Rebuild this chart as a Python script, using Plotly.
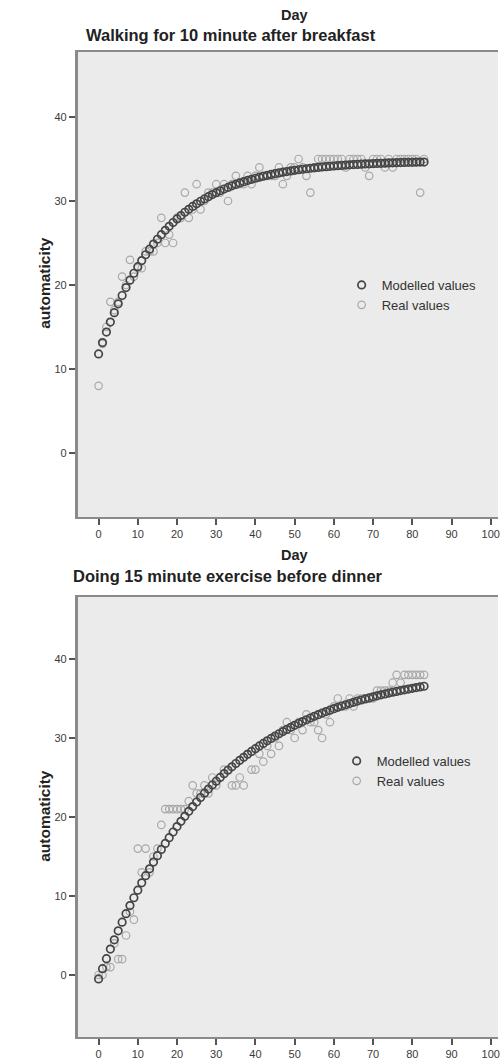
import plotly.graph_objects as go

days = list(range(0, 84))

walk_modelled = [11.80, 13.14, 14.40, 15.59, 16.71, 17.76, 18.75, 19.69, 20.57, 21.40,
                 22.18, 22.91, 23.60, 24.26, 24.87, 25.45, 25.99, 26.51, 26.99, 27.44,
                 27.87, 28.27, 28.66, 29.01, 29.35, 29.67, 29.97, 30.25, 30.51, 30.76,
                 30.99, 31.22, 31.43, 31.62, 31.81, 31.98, 32.15, 32.30, 32.45, 32.58,
                 32.71, 32.84, 32.95, 33.06, 33.16, 33.25, 33.34, 33.43, 33.51, 33.58,
                 33.65, 33.72, 33.78, 33.84, 33.90, 33.95, 34.00, 34.05, 34.09, 34.13,
                 34.17, 34.21, 34.24, 34.28, 34.31, 34.34, 34.36, 34.39, 34.41, 34.43,
                 34.46, 34.48, 34.49, 34.51, 34.53, 34.54, 34.56, 34.57, 34.59, 34.60,
                 34.61, 34.62, 34.63, 34.64]

walk_real = [8, 13, 15, 18, 17, 18, 21, 20, 23, 21,
             22, 22, 24, 24, 24, 25, 28, 25, 26, 25,
             28, 28, 31, 28, 29, 32, 29, 30, 31, 31,
             32, 31, 32, 30, 32, 33, 32, 32, 33, 32,
             33, 34, 33, 33, 33, 33, 34, 32, 33, 34,
             34, 35, 34, 33, 31, 34, 35, 35, 35, 35,
             35, 35, 35, 34, 35, 35, 35, 35, 34, 33,
             35, 35, 35, 34, 35, 34, 35, 35, 35, 35,
             35, 35, 31, 35]

exer_modelled = [-0.50, 0.80, 2.06, 3.28, 4.45, 5.59, 6.69, 7.76, 8.79, 9.78,
                 10.74, 11.67, 12.57, 13.44, 14.29, 15.10, 15.89, 16.65, 17.38, 18.10,
                 18.79, 19.45, 20.09, 20.72, 21.32, 21.90, 22.47, 23.01, 23.54, 24.05,
                 24.54, 25.01, 25.48, 25.92, 26.35, 26.77, 27.17, 27.56, 27.94, 28.30,
                 28.65, 29.00, 29.32, 29.64, 29.95, 30.25, 30.54, 30.82, 31.09, 31.35,
                 31.60, 31.84, 32.08, 32.31, 32.53, 32.74, 32.95, 33.15, 33.34, 33.52,
                 33.71, 33.88, 34.05, 34.21, 34.37, 34.52, 34.67, 34.81, 34.95, 35.08,
                 35.21, 35.34, 35.46, 35.57, 35.69, 35.80, 35.90, 36.00, 36.10, 36.20,
                 36.29, 36.38, 36.47, 36.55]

exer_real = [0, 0, 1, 1, 4, 2, 2, 5, 8, 7,
             16, 13, 16, 13, 15, 16, 19, 21, 21, 21,
             21, 21, 21, 22, 24, 23, 23, 24, 23, 25,
             24, 25, 26, 26, 24, 24, 25, 24, 28, 26,
             26, 28, 27, 29, 28, 30, 29, 31, 32, 31,
             30, 32, 31, 33, 32, 32, 31, 30, 33, 32,
             34, 35, 34, 34, 35, 34, 35, 35, 35, 35,
             35, 36, 36, 36, 36, 37, 38, 37, 38, 38,
             38, 38, 38, 38]

x_ticks = [0, 10, 20, 30, 40, 50, 60, 70, 80, 90, 100]
y_ticks = [0, 10, 20, 30, 40]

W, H = 500, 1064
FONT = "Liberation Sans, Arial, sans-serif"
MOD_COL = "#454545"
REAL_COL = "#a8a8a8"

fig = go.Figure()

panels = [
    ("x", "y", walk_modelled, walk_real, "legend"),
    ("x2", "y2", exer_modelled, exer_real, "legend2"),
]
for xa, ya, mod, real, lg in panels:
    fig.add_trace(go.Scatter(
        x=days, y=real, mode="markers", name="Real values",
        xaxis=xa, yaxis=ya, legend=lg, legendrank=2,
        marker=dict(symbol="circle-open", size=7.5, color=REAL_COL,
                    line=dict(width=1.2, color=REAL_COL)),
    ))
    fig.add_trace(go.Scatter(
        x=days, y=mod, mode="markers", name="Modelled values",
        xaxis=xa, yaxis=ya, legend=lg, legendrank=1,
        marker=dict(symbol="circle-open", size=7.5, color=MOD_COL,
                    line=dict(width=1.7, color=MOD_COL)),
    ))

def px_y(p):
    return 1 - p / H

def xaxis_cfg():
    return dict(
        domain=[78 / W, 1.0], range=[-5.33, 101.85],
        tickvals=x_ticks, ticks="outside", ticklen=6, tickwidth=1.5, tickcolor="#555",
        showline=True, linecolor="#8a8a8a", linewidth=2, mirror=True,
        showgrid=False, zeroline=False, ticklabeloverflow="allow",
        tickfont=dict(family=FONT, size=11, color="#3a3a3a"),
    )

def yaxis_cfg(dom, rng):
    return dict(
        domain=dom, range=rng,
        tickvals=y_ticks, ticks="outside", ticklen=6, tickwidth=1.5, tickcolor="#555",
        showline=True, linecolor="#8a8a8a", linewidth=2.5, mirror=False,
        showgrid=False, zeroline=False,
        tickfont=dict(family=FONT, size=11, color="#3a3a3a"),
    )

leg_font = dict(family=FONT, size=13, color="#333")
fig.update_layout(
    width=W, height=H,
    margin=dict(l=0, r=0, t=0, b=0),
    paper_bgcolor="white",
    plot_bgcolor="#ebebeb",
    font=dict(family=FONT, color="#222"),
    xaxis=dict(**xaxis_cfg(), anchor="y"),
    yaxis=dict(**yaxis_cfg([px_y(517), px_y(52)], [-7.62, 47.74]), anchor="x"),
    xaxis2=dict(**xaxis_cfg(), anchor="y2"),
    yaxis2=dict(**yaxis_cfg([px_y(1037), px_y(597)], [-7.85, 47.85]), anchor="x2"),
    legend=dict(x=343 / W, y=px_y(270), xanchor="left", yanchor="top",
                bgcolor="rgba(0,0,0,0)", font=leg_font,
                tracegroupgap=0, itemwidth=30),
    legend2=dict(x=338 / W, y=px_y(746), xanchor="left", yanchor="top",
                 bgcolor="rgba(0,0,0,0)", font=leg_font,
                 tracegroupgap=0, itemwidth=30),
    showlegend=True,
)

annots = [
    ("Day", 296, 15, 14.5, 0),
    ("Walking for 10 minute after breakfast", 232, 35, 16.5, 0),
    ("Day", 296, 555, 14.5, 0),
    ("Doing 15 minute exercise before dinner", 229, 576, 16.5, 0),
    ("automaticity", 44, 283, 15.5, -90),
    ("automaticity", 44, 816, 15.5, -90),
]
for text, xp, yp, size, ang in annots:
    fig.add_annotation(
        text=f"<b>{text}</b>", xref="paper", yref="paper",
        x=xp / W, y=px_y(yp), xanchor="center", yanchor="middle",
        showarrow=False, textangle=ang,
        font=dict(family=FONT, size=size, color="#222"),
    )

fig.write_html(
    "out.html",
    config={"displayModeBar": False},
    post_script="document.body.style.margin='0px';document.body.style.overflow='hidden';",
)
